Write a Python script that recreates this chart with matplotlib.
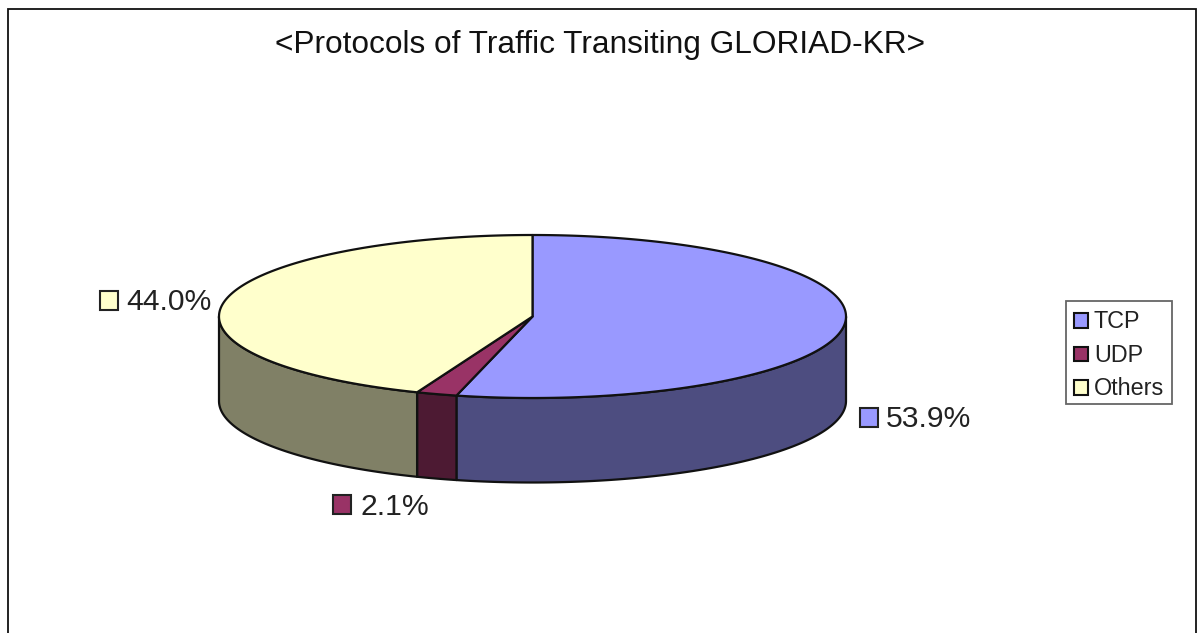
import numpy as np
import matplotlib
matplotlib.use("Agg")
import matplotlib.pyplot as plt
from matplotlib.patches import Polygon, Rectangle

title = "<Protocols of Traffic Transiting GLORIAD-KR>"
categories = ["TCP", "UDP", "Others"]
values = [53.9, 2.1, 44.0]
labels = ["53.9%", "2.1%", "44.0%"]
top_colors = ["#9999FF", "#993366", "#FFFFCC"]
side_colors = ["#4D4D80", "#4D1A33", "#808066"]
label_pos = [(886, 419), (360, 507), (126, 302)]
swatch_pos = [(860, 408), (333, 495), (100, 291)]

W, H = 1197, 633
CX, CY, RX, RY, DEPTH = 532.5, 316.5, 313.5, 81.5, 84.5
FONT = "Liberation Sans"

fig = plt.figure(figsize=(W / 100, H / 100), dpi=100)
ax = fig.add_axes([0, 0, 1, 1])
ax.set_xlim(0, W)
ax.set_ylim(H, 0)
ax.axis("off")


def rim(a0, a1, dy=0.0):
    t = np.radians(np.linspace(a0, a1, max(int(abs(a1 - a0)) * 2, 2)))
    return np.column_stack([CX + RX * np.sin(t), CY + dy - RY * np.cos(t)])


# chart frame, open at the bottom edge of the picture
ax.plot([7.5, 7.5, 1196, 1196], [H + 2, 8.5, 8.5, H + 2], color="#111111", lw=1.3,
        solid_joinstyle="miter", clip_on=False)

edges = np.concatenate([[0], np.cumsum(values)]) / sum(values) * 360

# side walls
for i in range(len(values)):
    a0, a1 = max(edges[i], 90), min(edges[i + 1], 270)
    if a1 > a0:
        front = rim(a0, a1)
        back = rim(a0, a1, DEPTH)[::-1]
        ax.add_patch(Polygon(np.vstack([front, back]), closed=True, fc=side_colors[i],
                             ec="#111111", lw=1.6, joinstyle="round"))

# top slices
for i in range(len(values)):
    pts = np.vstack([[CX, CY], rim(edges[i], edges[i + 1])])
    ax.add_patch(Polygon(pts, closed=True, fc=top_colors[i], ec="#111111", lw=1.6,
                         joinstyle="round"))

# percentage labels with colour keys
for (lx, ly), (sx, sy), text, color in zip(label_pos, swatch_pos, labels, top_colors):
    ax.add_patch(Rectangle((sx, sy), 18, 19, fc=color, ec="#222222", lw=1.5))
    ax.text(lx, ly, text, fontsize=21.7, family=FONT, color="#222222", va="center", ha="left")

ax.text(600, 45, title, fontsize=22.8, family=FONT, color="#111111", ha="center", va="center")

# legend
ax.add_patch(Rectangle((1066, 300.5), 106, 103.5, fc="white", ec="#666666", lw=1.3))
for i, (name, color) in enumerate(zip(categories, top_colors)):
    y = 320.5 + i * 33.7
    ax.add_patch(Rectangle((1074, y - 7.5), 14, 14.5, fc=color, ec="#111111", lw=1.5))
    ax.text(1094, y + 1, name, fontsize=16.8, family=FONT, color="#222222", va="center", ha="left")

fig.savefig("out.png", dpi=100)
